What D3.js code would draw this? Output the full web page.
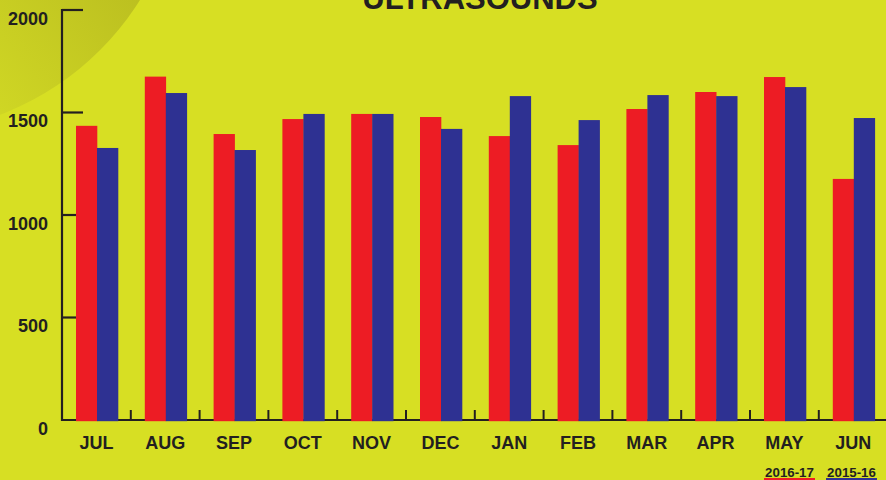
<!DOCTYPE html>
<html>
<head>
<meta charset="utf-8">
<script src="https://cdn.jsdelivr.net/npm/d3@7"></script>
<style>
html,body{margin:0;padding:0;background:#d7df23;}
svg{display:block;}
text{font-family:"Liberation Sans",Arial,Helvetica,sans-serif;font-weight:bold;fill:#231f20;}
</style>
</head>
<body>
<svg id="chart" width="886" height="480"></svg>
<script>
const months = ["JUL","AUG","SEP","OCT","NOV","DEC","JAN","FEB","MAR","APR","MAY","JUN"];
const series = ["2016-17","2015-16"];
const values2016 = [1435,1675,1395,1468,1493,1478,1385,1341,1517,1600,1673,1176];
const values2015 = [1327,1595,1317,1493,1493,1420,1580,1463,1585,1580,1624,1473];
const yTicks = [0,500,1000,1500,2000];
const colors = ["#ed1c24","#2e3192"];
const title = "ULTRASOUNDS";

const W = 886, H = 480;
const svg = d3.select("#chart");

// background
svg.append("rect").attr("width",W).attr("height",H).attr("fill","#d7df23");
const defs = svg.append("defs");
const grad = defs.append("linearGradient").attr("id","corner")
  .attr("gradientUnits","userSpaceOnUse")
  .attr("x1",0).attr("y1",110).attr("x2",140).attr("y2",0);
grad.append("stop").attr("offset","0").attr("stop-color","#cfd624");
grad.append("stop").attr("offset","1").attr("stop-color","#bcc020");
svg.append("circle").attr("cx",-100).attr("cy",-150).attr("r",283).attr("fill","url(#corner)");

const x0 = 62;
const step = 68.8;
const x = d3.scaleBand().domain(months).range([x0, x0 + step*months.length]).paddingInner(0).paddingOuter(0);
const xs = d3.scaleBand().domain(series).range([14, 14+42]);
const y = d3.scaleLinear().domain([0,2000]).range([420,10]);

// axes
const axisColor = "#231f20";
svg.append("line").attr("x1",x0).attr("x2",x0).attr("y1",y(2000)-1).attr("y2",y(0)+1)
  .attr("stroke",axisColor).attr("stroke-width",2.2);
svg.append("line").attr("x1",x0-1).attr("x2",W).attr("y1",y(0)).attr("y2",y(0))
  .attr("stroke",axisColor).attr("stroke-width",2.2);
svg.selectAll(".ytick").data(yTicks.filter(d=>d>0)).enter().append("line")
  .attr("x1",x0).attr("x2",x0+21).attr("y1",d=>y(d)).attr("y2",d=>y(d))
  .attr("stroke",axisColor).attr("stroke-width",2.2);
svg.selectAll(".ylab").data(yTicks).enter().append("text")
  .attr("x",48).attr("y",d=>y(d)+14.5).attr("text-anchor","end")
  .attr("font-size",18).text(d=>d);
svg.selectAll(".xtick").data(months.slice(1)).enter().append("line")
  .attr("x1",d=>x(d)).attr("x2",d=>x(d)).attr("y1",y(0)).attr("y2",y(0)-10)
  .attr("stroke",axisColor).attr("stroke-width",2);

// bars
const data = months.map((m,i)=>({m, vals:[values2016[i], values2015[i]]}));
const g = svg.selectAll(".grp").data(data).enter().append("g")
  .attr("transform",d=>`translate(${x(d.m)},0)`);
g.selectAll("rect").data(d=>d.vals.map((v,j)=>({v,s:series[j],c:colors[j]}))).enter().append("rect")
  .attr("x",d=>xs(d.s)).attr("width",xs.bandwidth()+0.3)
  .attr("y",d=>y(d.v)).attr("height",d=>y(0)+1.2-y(d.v))
  .attr("fill",d=>d.c);

// x labels
svg.selectAll(".xlab").data(months).enter().append("text")
  .attr("x",d=>x(d)+x.bandwidth()/2).attr("y",449).attr("text-anchor","middle")
  .attr("font-size",18).text(d=>d);

// title
svg.append("text").attr("x",480).attr("y",9).attr("text-anchor","middle")
  .attr("font-size",31).text(title);

// legend
const legX = [764, 826];
series.forEach((s,i)=>{
  svg.append("text").attr("x",legX[i]+25.5).attr("y",477).attr("text-anchor","middle")
    .attr("font-size",13.3).text(s);
  svg.append("rect").attr("x",legX[i]).attr("y",478).attr("width",51).attr("height",2.5)
    .attr("fill",colors[i]);
});
</script>
</body>
</html>
